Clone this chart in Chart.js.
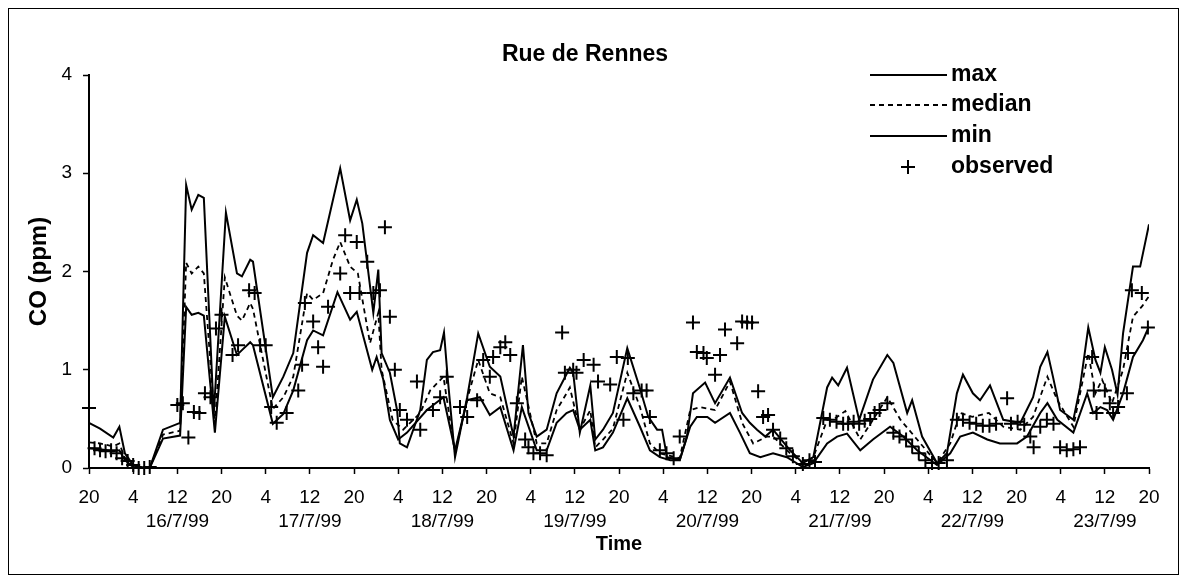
<!DOCTYPE html>
<html>
<head>
<meta charset="utf-8">
<script src="https://cdn.jsdelivr.net/npm/chart.js@4.4.1/dist/chart.umd.min.js"></script>
<style>
  html, body { margin: 0; padding: 0; background: #fff; }
  #wrap { position: relative; width: 1187px; height: 582px; }
</style>
</head>
<body>
<div id="wrap"><canvas id="co" width="1187" height="582"></canvas></div>
<script>
// Hours since 15/7/99 20:00 (one tick = 8 h).
const TICK_LABELS = ['20', '4', '12', '20', '4', '12', '20', '4', '12', '20', '4', '12', '20',
  '4', '12', '20', '4', '12', '20', '4', '12', '20', '4', '12', '20'];
const DATE_LABELS = ['16/7/99', '17/7/99', '18/7/99', '19/7/99', '20/7/99', '21/7/99', '22/7/99', '23/7/99'];

const MAX_H = [0, 2, 4.4, 5.5, 6.5, 8, 9.5, 11, 13.4, 16.5, 17.6, 18.6, 19.8, 20.8, 22.6, 24.8, 26.8, 27.7, 29.2, 29.7,
  33.3, 35.2, 37, 39.5, 40.6, 42.4, 45.5, 47.3, 48.5, 49.5, 51.5, 52.4, 53, 54.5, 55.8, 56.3, 57.6, 60, 61.2, 62.3,
  63.6, 64.3, 65, 66.3, 68.5, 70.5, 72.6, 74.5, 76.9, 78.6, 79.6, 81.1, 82.9, 84.7, 87.1, 87.7, 88.9, 90.8, 91.7, 93.1,
  94.9, 97.5, 99.8, 101.3, 102.9, 103.8, 104.7, 107, 108.3, 109.4, 111.6, 113.4, 116.1, 118.3, 119.7, 121, 122.5, 123.9, 127, 129.3,
  131.2, 133.7, 134.6, 135.7, 137.3, 139.5, 142, 144.6, 145.7, 148.2, 149.1, 150.9, 153.6, 155.4, 157.2, 158.3, 160.1, 161.4, 163.2, 165.6,
  168.7, 171, 172.3, 173.6, 174.6, 175.9, 178.3, 179.5, 181, 182.3, 183.2, 184, 185.3, 186.3, 187.3, 189.1, 190.4, 192];
const MAX_V = [0.46, 0.40, 0.31, 0.42, 0.15, 0.03, 0.00, 0.00, 0.39, 0.46, 2.88, 2.63, 2.78, 2.75, 0.55, 2.60, 1.98, 1.95, 2.12, 2.10,
  0.72, 0.93, 1.17, 2.19, 2.37, 2.29, 3.05, 2.52, 2.73, 2.49, 1.58, 2.02, 1.17, 0.97, 0.59, 0.25, 0.21, 0.59, 1.10, 1.18,
  1.20, 1.38, 0.90, 0.11, 0.72, 1.37, 1.03, 0.93, 0.32, 1.25, 0.56, 0.32, 0.39, 0.76, 1.02, 0.97, 0.36, 0.84, 0.29, 0.39,
  0.56, 1.22, 0.81, 0.52, 0.39, 0.39, 0.11, 0.08, 0.32, 0.76, 0.87, 0.66, 0.92, 0.56, 0.46, 0.39, 0.32, 0.39, 0.18, 0.05,
  0.11, 0.82, 0.92, 0.84, 1.02, 0.49, 0.90, 1.15, 1.07, 0.56, 0.69, 0.32, 0.05, 0.15, 0.76, 0.95, 0.76, 0.69, 0.84, 0.49,
  0.46, 0.72, 1.03, 1.18, 0.93, 0.59, 0.49, 0.82, 1.43, 1.10, 0.97, 1.23, 1.00, 0.75, 1.37, 2.05, 2.05, 2.48];

const MED_H = [0, 2, 4.4, 5.5, 6.5, 8, 11, 13.4, 16.5, 17.6, 18.6, 19.8, 20.8, 22.8, 24.6, 26.8, 27.7, 29.2, 29.7, 33.3,
  35.2, 37, 39.5, 40.6, 42.4, 44.2, 45.5, 47.3, 48.7, 50.9, 52.4, 53, 55, 56.9, 60, 61.8, 64.2, 66.3, 68.5, 70.5,
  72.6, 74.5, 76.9, 78.4, 81.1, 82.9, 84.7, 86.5, 87.1, 88.9, 90.8, 91.7, 93.1, 94.9, 97.5, 99.8, 101.6, 103.4, 107, 108.9,
  110.7, 113.4, 116.1, 118.3, 120.3, 122.8, 123.9, 127, 129.3, 131.2, 133.7, 135, 137, 139.7, 142, 144.6, 147, 150, 153.6, 156,
  157.8, 160, 163, 165.6, 168.7, 171, 173.6, 175.4, 178.3, 181, 182.3, 183.5, 185.3, 187.3, 189.1, 190.8, 192];
const MED_V = [0.26, 0.25, 0.22, 0.25, 0.10, 0.02, 0.00, 0.34, 0.38, 2.09, 1.98, 2.05, 1.98, 0.45, 1.94, 1.55, 1.50, 1.68, 1.62, 0.60,
  0.72, 0.93, 1.78, 1.71, 1.78, 2.12, 2.30, 2.05, 1.98, 1.27, 1.58, 1.00, 0.49, 0.39, 0.56, 0.79, 0.93, 0.15, 0.70, 1.10,
  0.76, 0.72, 0.25, 0.93, 0.25, 0.25, 0.59, 0.76, 0.82, 0.39, 0.59, 0.21, 0.29, 0.40, 0.97, 0.62, 0.25, 0.15, 0.10, 0.59,
  0.62, 0.59, 0.88, 0.46, 0.25, 0.32, 0.32, 0.15, 0.05, 0.11, 0.49, 0.50, 0.58, 0.29, 0.49, 0.72, 0.49, 0.29, 0.05, 0.25,
  0.56, 0.52, 0.56, 0.42, 0.39, 0.52, 0.93, 0.69, 0.42, 1.17, 0.76, 0.90, 0.66, 1.00, 1.54, 1.65, 1.75];

const MIN_H = [0, 2, 4.4, 5.5, 6.5, 8, 11, 13.4, 16.5, 17.6, 18.6, 19.8, 20.8, 22.8, 24.6, 26.8, 27.7, 29.2, 29.7, 33.3,
  35.2, 37, 39.5, 40.6, 42.4, 45, 47.3, 48.5, 51.3, 52.1, 53.3, 54.5, 56, 57.6, 61.2, 64.2, 66.3, 68.5, 70.8, 72.6,
  74.5, 76.9, 78.4, 81.1, 82.9, 84.7, 86.5, 87.7, 88.9, 90.8, 91.7, 93.1, 94.9, 97.5, 99.8, 101.6, 103.4, 105.3, 107, 108.9,
  110.1, 112, 113.4, 116.1, 117.9, 119.7, 121.6, 123.9, 126.4, 129.3, 131.2, 133.7, 135.5, 137.3, 139.7, 142, 145.1, 147.5, 150, 153.6,
  156, 157.8, 160.1, 162.7, 165, 168.1, 169.9, 172.3, 173.6, 175.4, 178.3, 180.8, 181.9, 183.2, 184.4, 185.5, 187.3, 189.1, 190.9, 192];
const MIN_V = [0.20, 0.19, 0.17, 0.18, 0.08, 0.01, 0.00, 0.30, 0.33, 1.64, 1.56, 1.58, 1.55, 0.36, 1.54, 1.15, 1.20, 1.28, 1.25, 0.45,
  0.55, 0.79, 1.30, 1.40, 1.35, 1.79, 1.51, 1.59, 1.00, 1.13, 0.90, 0.49, 0.29, 0.36, 0.59, 0.72, 0.18, 0.69, 0.72, 0.54,
  0.62, 0.18, 0.62, 0.18, 0.18, 0.46, 0.56, 0.59, 0.39, 0.49, 0.18, 0.21, 0.36, 0.71, 0.42, 0.18, 0.11, 0.08, 0.08, 0.42,
  0.52, 0.52, 0.46, 0.56, 0.36, 0.15, 0.11, 0.15, 0.11, 0.01, 0.05, 0.25, 0.32, 0.35, 0.18, 0.29, 0.42, 0.32, 0.18, 0.03,
  0.15, 0.32, 0.36, 0.29, 0.25, 0.25, 0.32, 0.56, 0.66, 0.49, 0.36, 0.76, 0.56, 0.62, 0.59, 0.49, 0.76, 1.13, 1.30, 1.44];

const OBS_H = [0, 1, 2, 3, 4, 5, 6, 7, 8, 9, 10, 11, 16, 17, 18, 19, 20, 21, 22, 23,
  24, 26, 27, 29, 30, 31, 32, 33, 34, 35.8, 37.9, 38.6, 39.1, 40.6, 41.5, 42.4, 43.3, 45.5, 46.4, 47.3,
  48.5, 49, 50.4, 51.5, 52.7, 53.6, 54.5, 55.4, 56.3, 57.6, 59.4, 60, 62.3, 63.6, 64.8, 67.2, 68.5, 70.3, 71.4, 72.6,
  73.2, 74.5, 75.4, 76.3, 77.5, 79, 79.6, 80.5, 81.7, 82.9, 85.7, 86.2, 87.7, 88.3, 89.6, 91.4, 92.2, 94.4, 95.6, 96.8,
  97.6, 98.6, 100.1, 101, 101.6, 103.4, 104.6, 105.9, 107, 109.4, 110.1, 111.3, 111.9, 113.4, 114.3, 115.2, 117.4, 118.3, 119.2, 120.1,
  121.2, 122.1, 123, 123.9, 125.2, 126.3, 127.5, 129.3, 130.5, 131.5, 133, 134.2, 135.4, 136.6, 137.5, 138.5, 139.5, 140.5, 141.5, 142.3,
  143.2, 144.6, 145.7, 146.8, 148, 149.1, 150.3, 151.5, 152.7, 153.9, 155.4, 157.2, 158.3, 159.5, 160.7, 161.9, 163.1, 164.3, 166.3, 167,
  168.2, 169.4, 170.5, 171.1, 172.3, 173.5, 174.7, 175.9, 177.1, 178.3, 179.5, 181.7, 182, 182.5, 184, 184.9, 185.5, 186.4, 188, 188.2,
  188.9, 190.7, 191.8];
const OBS_V = [0.61, 0.20, 0.18, 0.17, 0.18, 0.15, 0.10, 0.07, 0.03, 0.00, 0.00, 0.01, 0.64, 0.66, 0.31, 0.57, 0.56, 0.76, 0.72, 1.42,
  1.56, 1.15, 1.25, 1.81, 1.78, 1.25, 1.25, 0.62, 0.46, 0.56, 0.79, 1.05, 1.68, 1.49, 1.23, 1.03, 1.64, 1.98, 2.37, 1.78,
  2.30, 1.78, 2.10, 1.78, 1.81, 2.45, 1.54, 1.00, 0.59, 0.49, 0.88, 0.39, 0.59, 0.72, 0.93, 0.62, 0.52, 0.69, 1.10, 0.93,
  1.13, 1.23, 1.28, 1.15, 0.66, 0.29, 0.21, 0.15, 0.15, 0.13, 1.38, 0.97, 1.00, 0.97, 1.10, 1.05, 0.88, 0.85, 1.13, 0.49,
  1.12, 0.76, 0.79, 0.79, 0.52, 0.18, 0.15, 0.10, 0.32, 1.48, 1.18, 1.17, 1.12, 0.95, 1.15, 1.41, 1.27, 1.49, 1.48, 1.48,
  0.78, 0.52, 0.54, 0.39, 0.30, 0.20, 0.12, 0.04, 0.08, 0.06, 0.51, 0.49, 0.47, 0.45, 0.45, 0.47, 0.45, 0.48, 0.50, 0.56,
  0.59, 0.66, 0.36, 0.32, 0.29, 0.22, 0.15, 0.08, 0.05, 0.05, 0.08, 0.49, 0.49, 0.46, 0.45, 0.43, 0.43, 0.45, 0.71, 0.45,
  0.47, 0.44, 0.32, 0.21, 0.42, 0.49, 0.45, 0.21, 0.18, 0.19, 0.21, 1.13, 0.79, 0.56, 0.79, 0.66, 0.56, 0.62, 0.76, 1.17,
  1.81, 1.78, 1.43];

const FONT = '"Liberation Sans", Arial, sans-serif';

function points(hours, values) {
  return hours.map((h, i) => ({ x: h, y: values[i] }));
}

// frame, title and the little legend in the top right corner
const decorations = {
  id: 'decorations',
  beforeDraw(chart) {
    const ctx = chart.ctx;
    ctx.save();
    ctx.strokeStyle = '#000';
    ctx.lineWidth = 1;
    ctx.strokeRect(8.5, 8.5, 1170, 566);
    ctx.restore();
  },
  afterDraw(chart) {
    const ctx = chart.ctx;
    ctx.save();
    ctx.fillStyle = '#000';
    ctx.textBaseline = 'middle';
    ctx.font = 'bold 23px ' + FONT;
    ctx.textAlign = 'center';
    ctx.fillText('Rue de Rennes', 585, 55);

    const rows = [
      { y: 75, label: 'max', dash: [] },
      { y: 105, label: 'median', dash: [5, 4] },
      { y: 136, label: 'min', dash: [] }
    ];
    ctx.textAlign = 'left';
    ctx.lineWidth = 2;
    ctx.strokeStyle = '#000';
    rows.forEach((r) => {
      ctx.setLineDash(r.dash);
      ctx.beginPath();
      ctx.moveTo(870, r.y);
      ctx.lineTo(947, r.y);
      ctx.stroke();
      ctx.fillText(r.label, 951, r.y);
    });
    ctx.setLineDash([]);
    ctx.beginPath();
    ctx.moveTo(901, 167); ctx.lineTo(915, 167);
    ctx.moveTo(908, 160); ctx.lineTo(908, 174);
    ctx.stroke();
    ctx.fillText('observed', 951, 167);
    ctx.restore();
  }
};

new Chart(document.getElementById('co'), {
  type: 'line',
  data: {
    datasets: [
      { label: 'max', data: points(MAX_H, MAX_V), borderColor: '#000', borderWidth: 2, pointRadius: 0, tension: 0 },
      { label: 'median', data: points(MED_H, MED_V), borderColor: '#000', borderWidth: 1.8, borderDash: [5, 4], pointRadius: 0, tension: 0 },
      { label: 'min', data: points(MIN_H, MIN_V), borderColor: '#000', borderWidth: 2, pointRadius: 0, tension: 0 },
      { label: 'observed', data: points(OBS_H, OBS_V), showLine: false, pointStyle: 'cross', pointRadius: 7,
        borderColor: '#000', pointBorderWidth: 2, clip: false }
    ]
  },
  options: {
    responsive: false,
    animation: false,
    devicePixelRatio: 1,
    layout: { padding: { left: 0, right: 38, top: 75, bottom: 0 } },
    plugins: { legend: { display: false }, title: { display: false }, tooltip: { enabled: false } },
    scales: {
      x: {
        type: 'linear',
        min: 0,
        max: 192,
        afterFit: (s) => { s.height = 114; },
        afterBuildTicks: (s) => { s.ticks = TICK_LABELS.map((_, i) => ({ value: i * 8 })); },
        ticks: {
          color: '#000',
          padding: 12,
          maxRotation: 0,
          autoSkip: false,
          font: { family: FONT, size: 19, lineHeight: 1.27 },
          callback: (v, i) => {
            const day = (i - 2) / 3;
            return Number.isInteger(day) && day >= 0 ? [TICK_LABELS[i], DATE_LABELS[day]] : TICK_LABELS[i];
          }
        },
        grid: { drawOnChartArea: false, drawTicks: true, tickLength: 6, tickWidth: 1.5, tickColor: '#000' },
        border: { display: true, color: '#000', width: 2 },
        title: { display: true, text: 'Time', color: '#000', font: { family: FONT, size: 20, weight: 'bold' }, padding: { top: 0, bottom: 26 } }
      },
      y: {
        min: 0,
        max: 4,
        afterFit: (s) => { s.width = 89; },
        ticks: { stepSize: 1, color: '#000', padding: 11, font: { family: FONT, size: 19 } },
        grid: { drawOnChartArea: false, drawTicks: true, tickLength: 6, tickWidth: 1.5, tickColor: '#000' },
        border: { display: true, color: '#000', width: 2 },
        title: { display: true, text: 'CO (ppm)', color: '#000', font: { family: FONT, size: 24, weight: 'bold' }, padding: { top: 25, bottom: 0 } }
      }
    }
  },
  plugins: [decorations]
});
</script>
</body>
</html>
